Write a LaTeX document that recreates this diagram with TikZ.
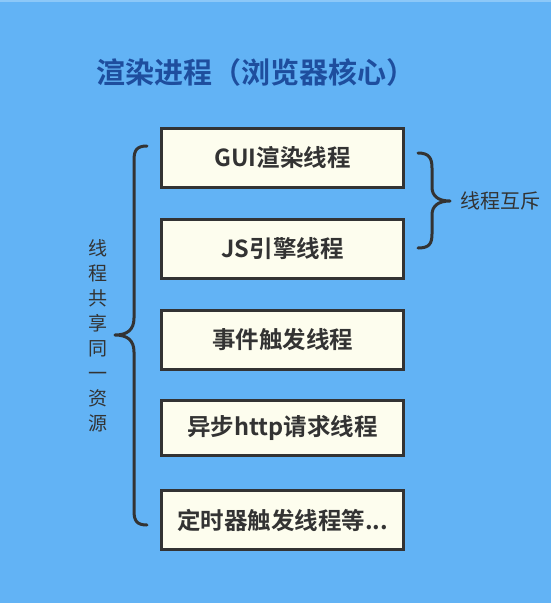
\documentclass[tikz,border=0pt]{standalone}
\usepackage{fontspec}
\newfontfamily\cjk{Noto Sans CJK SC}
\newfontfamily\cjkb{Noto Sans CJK SC Bold}
\definecolor{bg}{HTML}{62B3F5}
\definecolor{bgtop}{HTML}{8CC8F8}
\definecolor{boxfill}{HTML}{FDFDEE}
\definecolor{ink}{HTML}{333333}
\definecolor{titleblue}{HTML}{1E4E9E}
\begin{document}
\begin{tikzpicture}[x=1pt,y=-1pt,
  threadbox/.style={draw=ink, line width=3pt, fill=boxfill, minimum width=242pt, minimum height=59pt, inner sep=0pt, text=ink, font=\cjkb\fontsize{23.5}{28}\selectfont},
  bracepath/.style={draw=ink, line width=3pt, line cap=round, line join=round},
  lbl/.style={text=ink, inner sep=0pt, font=\cjk\fontsize{20}{24}\selectfont}]
\fill[bg] (0,0) rectangle (551,603);
\fill[bgtop] (0,0) rectangle (551,1.5);
\useasboundingbox (0,0) rectangle (551,603);
\node[text=titleblue, font=\cjkb\fontsize{29}{35}\selectfont, inner sep=0pt] (title) at (256,72) {渲染进程（浏览器核心）};
\node[threadbox] (gui) at (282.5,157.5) {GUI渲染线程};
\node[threadbox] (js) at (282.5,248.5) {JS引擎线程};
\node[threadbox] (evt) at (282.5,339.5) {事件触发线程};
\node[threadbox, minimum height=55pt] (http) at (282.5,427.5) {异步http请求线程};
\node[threadbox] (timer) at (282.5,520) {定时器触发线程等...};
% right brace
\draw[bracepath] (418,153) .. controls (429,153) and (432,158) .. (432,168) -- (432,187) .. controls (432,196) and (438,201) .. (450,201) .. controls (438,201) and (432,206) .. (432,215) -- (432,234) .. controls (432,244) and (429,248) .. (418,248);
\node[lbl, anchor=west] (mutex) at (460,201) {线程互斥};
% left brace
\draw[bracepath] (147,146) .. controls (137,146) and (134,150) .. (134,160) -- (134,318) .. controls (134,330) and (127,335) .. (115,335) .. controls (127,335) and (134,340) .. (134,352) -- (134,511) .. controls (134,521) and (137,525) .. (147,525);
\node[lbl, align=center, font=\cjk\fontsize{19}{25}\selectfont] (share) at (98,335.5) {线\\程\\共\\享\\同\\一\\资\\源};
\end{tikzpicture}
\end{document}
